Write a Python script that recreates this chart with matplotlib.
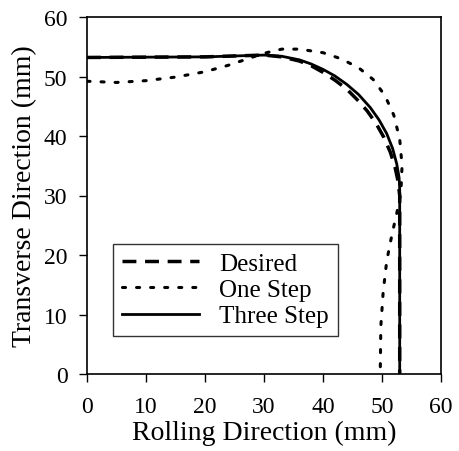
import matplotlib
matplotlib.use("Agg")
import matplotlib.pyplot as plt

# Desired contour
desired_x = [0, 20, 30, 33, 36, 38, 40, 42, 44, 46, 47.5, 49, 50.3, 51.4, 52.2, 52.7, 53, 53]
desired_y = [53.2, 53.3, 53.6, 53.3, 52.6, 51.8, 50.7, 49.4, 47.9, 45.9, 44.2, 42.1, 39.8,
             37.3, 34.8, 32.5, 30, 0]

# One step result
one_x = [0, 5, 10, 15, 20, 24, 27, 30, 33, 36, 40, 43, 46, 48.5, 50.5, 52, 53, 53.4,
         53.2, 52.5, 51.7, 50.8, 50.2, 49.8, 49.7]
one_y = [49.2, 49.0, 49.3, 49.9, 50.8, 51.9, 52.9, 53.9, 54.6, 54.6, 54.0, 53.0, 51.5,
         49.5, 46.8, 43.5, 39.5, 35, 30.5, 27, 23.5, 19, 13.8, 8, 0]

# Three step result
three_x = [0, 20, 30, 33, 36, 38, 40, 42, 44, 46, 48, 49.5, 50.8, 51.8, 52.5, 52.9, 53, 53]
three_y = [53.2, 53.3, 53.6, 53.4, 52.8, 52.1, 51.2, 50.1, 48.7, 47, 44.8, 42.7, 40.4,
           37.9, 35.3, 33, 31, 0]

ticks = [0, 10, 20, 30, 40, 50, 60]

plt.rcParams["font.family"] = ["Liberation Serif", "DejaVu Serif"]

fig = plt.figure(figsize=(4.59, 4.52), dpi=100)
ax = fig.add_axes([87 / 459, 77 / 452, 354 / 459, 357 / 452])

ax.plot(desired_x, desired_y, color="black", lw=2.5, linestyle=(0, (4, 2.5)),
        label="Desired")
ax.plot(one_x, one_y, color="black", lw=2.2, linestyle=(0, (1, 3.6)),
        dash_capstyle="round", label="One Step")
ax.plot(three_x, three_y, color="black", lw=2.0, label="Three Step")

ax.set_xlim(0, 60)
ax.set_ylim(0, 60)
ax.set_xticks(ticks)
ax.set_yticks(ticks)
ax.tick_params(direction="out", length=6, width=1, labelsize=17)
ax.tick_params(axis="x", pad=10)
ax.tick_params(axis="y", pad=8)
for sp in ax.spines.values():
    sp.set_linewidth(1.2)

ax.set_xlabel("Rolling Direction (mm)", fontsize=20, labelpad=2)
ax.set_ylabel("Transverse Direction (mm)", fontsize=20, labelpad=5)

leg = ax.legend(loc="lower left", bbox_to_anchor=(26 / 354, 38 / 357),
                fontsize=18, frameon=True, fancybox=False, edgecolor="black",
                handlelength=3.1, handletextpad=0.8, borderpad=0.35,
                labelspacing=0.15, borderaxespad=0)
leg.get_frame().set_linewidth(1.0)

fig.savefig("out.png", dpi=100)
